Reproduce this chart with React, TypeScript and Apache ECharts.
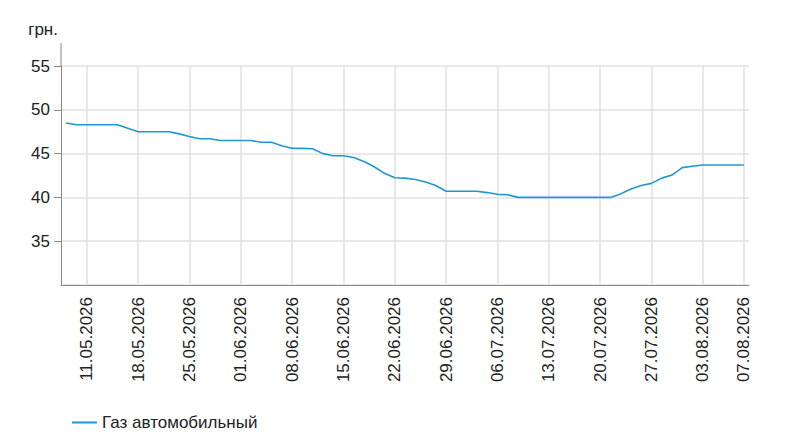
import React, { useEffect, useRef } from "react";
import * as echarts from "echarts";

const categories: string[] = [
  "07.05.2026", "08.05.2026",
  "11.05.2026", "12.05.2026", "13.05.2026", "14.05.2026", "15.05.2026",
  "18.05.2026", "19.05.2026", "20.05.2026", "21.05.2026", "22.05.2026",
  "25.05.2026", "26.05.2026", "27.05.2026", "28.05.2026", "29.05.2026",
  "01.06.2026", "02.06.2026", "03.06.2026", "04.06.2026", "05.06.2026",
  "08.06.2026", "09.06.2026", "10.06.2026", "11.06.2026", "12.06.2026",
  "15.06.2026", "16.06.2026", "17.06.2026", "18.06.2026", "19.06.2026",
  "22.06.2026", "23.06.2026", "24.06.2026", "25.06.2026", "26.06.2026",
  "29.06.2026", "30.06.2026", "01.07.2026", "02.07.2026", "03.07.2026",
  "06.07.2026", "07.07.2026", "08.07.2026", "09.07.2026", "10.07.2026",
  "13.07.2026", "14.07.2026", "15.07.2026", "16.07.2026", "17.07.2026",
  "20.07.2026", "21.07.2026", "22.07.2026", "23.07.2026", "24.07.2026",
  "27.07.2026", "28.07.2026", "29.07.2026", "30.07.2026", "31.07.2026",
  "03.08.2026", "04.08.2026", "05.08.2026", "06.08.2026", "07.08.2026",
];

const gasValues: number[] = [
  48.5, 48.3,
  48.3, 48.3, 48.3, 48.3, 47.9,
  47.5, 47.5, 47.5, 47.5, 47.25,
  46.95, 46.7, 46.7, 46.5, 46.5,
  46.5, 46.5, 46.3, 46.3, 45.9,
  45.6, 45.6, 45.55, 45.0, 44.75,
  44.75, 44.55, 44.1, 43.5, 42.75,
  42.25, 42.2, 42.05, 41.75, 41.35,
  40.7, 40.7, 40.7, 40.7, 40.55,
  40.35, 40.3, 40.0, 40.0, 40.0,
  40.0, 40.0, 40.0, 40.0, 40.0,
  40.0, 40.0, 40.4, 40.95, 41.35,
  41.6, 42.2, 42.55, 43.4, 43.55,
  43.7, 43.7, 43.7, 43.7, 43.7,
];

const seriesName = "Газ автомобильный";
const unitLabel = "грн.";
const yMin = 30;
const yMax = 55;
const yStep = 5;

const FONT = "'Liberation Sans', Arial, sans-serif";
const TEXT = "#222";
const LINE = "#2196d3";

const showIdx = (i: number) => i % 5 === 2 || i === categories.length - 1;

export default function App() {
  const ref = useRef<HTMLDivElement>(null);
  useEffect(() => {
    if (!ref.current) return;
    const chart = echarts.init(ref.current, null, { renderer: "svg" });
    chart.setOption({
      animation: false,
      backgroundColor: "#fff",
      textStyle: { fontFamily: FONT },
      grid: { left: 61, right: 51, top: 66, bottom: 163, containLabel: false },
      legend: {
        left: 67,
        top: 409,
        icon: "rect",
        itemWidth: 25,
        itemHeight: 2,
        itemStyle: { color: LINE },
        textStyle: { fontFamily: FONT, fontSize: 17, color: TEXT, padding: [0, 0, 0, 0] },
        data: [seriesName],
      },
      xAxis: {
        type: "category",
        data: categories,
        boundaryGap: true,
        axisLine: { lineStyle: { color: "#888", width: 1 } },
        axisTick: {
          alignWithLabel: true,
          interval: (i: number) => showIdx(i),
          length: 6,
          lineStyle: { color: "#888" },
        },
        axisLabel: {
          interval: (i: number) => showIdx(i),
          rotate: 90,
          margin: 12,
          fontSize: 17,
          color: TEXT,
          fontFamily: FONT,
        },
        splitLine: {
          show: true,
          alignWithLabel: true,
          interval: (i: number) => showIdx(i),
          lineStyle: { color: "#e0e0e0", width: 1.5 },
        },
      },
      yAxis: {
        type: "value",
        min: yMin,
        max: yMax,
        interval: yStep,
        name: unitLabel,
        nameLocation: "end",
        nameGap: 28,
        nameTextStyle: { fontSize: 17, color: TEXT, fontFamily: FONT, align: "right", padding: [0, 3, 0, 0] },
        axisLine: { show: true, lineStyle: { color: "#888", width: 1 } },
        axisTick: { show: true, length: 7, lineStyle: { color: "#888" } },
        axisLabel: { showMinLabel: false, margin: 11, fontSize: 17, color: TEXT, fontFamily: FONT },
        splitLine: { show: true, lineStyle: { color: "#e0e0e0", width: 1.5 } },
      },
      graphic: [
        {
          type: "line",
          shape: { x1: 61, y1: 43, x2: 61, y2: 66 },
          style: { stroke: "#888", lineWidth: 1 },
          z: 10,
        },
      ],
      series: [
        {
          name: seriesName,
          type: "line",
          data: gasValues,
          symbol: "none",
          showSymbol: false,
          lineStyle: { color: LINE, width: 1.6 },
          itemStyle: { color: LINE },
        },
      ],
    });
    return () => chart.dispose();
  }, []);
  return (
    <div
      ref={ref}
      style={{ position: "absolute", left: 0, top: 0, width: 800, height: 448 }}
    />
  );
}
